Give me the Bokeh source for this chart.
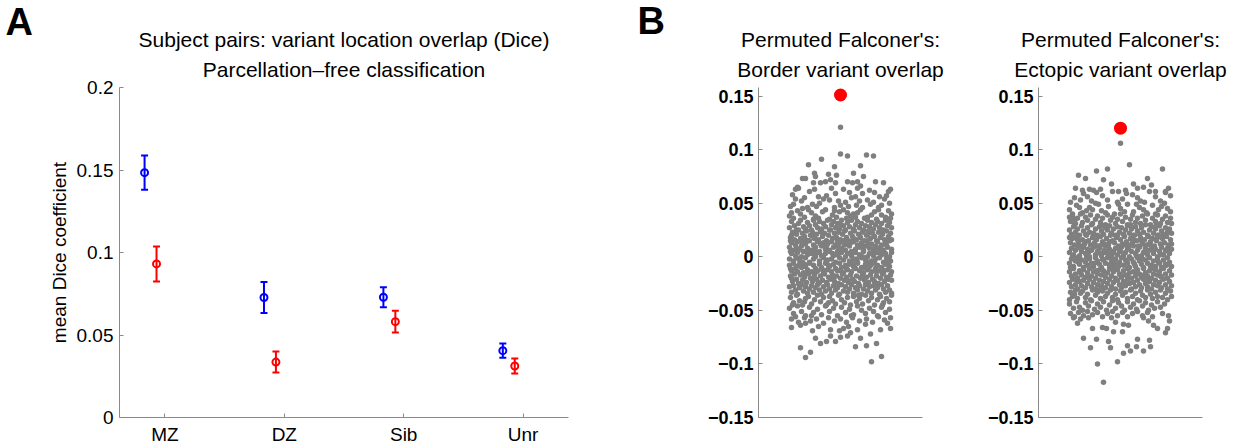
from bokeh.plotting import figure
from bokeh.models import ColumnDataSource, Whisker, TeeHead, Title, FixedTicker, Range1d
from bokeh.layouts import row
from bokeh.embed import file_html
from bokeh.resources import INLINE

# ---------------- data: panel A ----------------
categories = ["MZ", "DZ", "Sib", "Unr"]
blue_mean = [0.1484, 0.0727, 0.0729, 0.0405]
blue_err = [0.0104, 0.0094, 0.0061, 0.0043]
red_mean = [0.0931, 0.0336, 0.0581, 0.0312]
red_err = [0.0106, 0.0064, 0.0066, 0.0045]

# ---------------- data: panel B (jitter, value in thousandths) ----------------
border_observed = 0.151
ectopic_observed = 0.120

border_perm = [
    (0,121),(0,96),(7,94),(26,95),(33,94),(-19,91),(-32,86),(-6,84),(20,85),(-26,78),(-38,73),(-35,73),
    (-12,77),(-4,76),(13,78),(23,75),(-25,75),(-27,69),(-20,69),(-15,70),(-10,72),(-5,69),(7,70),(12,69),
    (17,70),(35,70),(43,69),(-43,65),(-45,63),(17,64),(20,66),(50,63),
    (-40,-85),(-35,-94),(-30,-89),(31,-98),(41,-93),(15,-84),(26,-83),(36,-81),(-20,-81),(-14,-79),(-5,-79),
    (-25,-76),(-10,-74),(0,-75),(7,-74),(10,-71),(20,-76),(30,-72),(40,-68),(50,-67),(-28,-69),(-49,-66),
    (-40,-64),(-35,-62),(-22,-65),(-10,-68),(-1,-69),(3,-67),(8,-65),(17,-68),(25,-63),(47,-62),
    (-48,58),(-31,61),(-14,57),(3,63),(22,59),(39,56),(-42,64),(-22,56),(9,60),(29,62),(46,57),(-5,59),
    (-36,55),(15,56),(34,60),(-26,63),(48,61),(-9,64),
    (-50,47),(-39,52),(-28,49),(-17,54),(-6,46),(5,51),(16,48),(27,53),(38,46),(49,50),(-45,54),(-33,46),
    (-21,50),(-11,53),(0,48),(11,55),(22,46),(33,51),(44,54),(-47,49),(-24,47),(-2,52),(19,52),(41,48),
    (8,47),(30,49),
    (-51,38),(-43,43),(-36,37),(-29,41),(-22,36),(-15,44),(-8,39),(-1,42),(6,36),(13,40),(20,44),(27,37),
    (34,42),(41,39),(48,43),(-47,36),(-40,40),(-32,44),(-25,38),(-18,42),(-11,35),(-4,37),(3,44),(10,38),
    (17,41),(24,36),(31,39),(38,44),(45,37),(51,40),(-49,41),(-27,35),(-6,43),(15,37),(36,35),(50,36),
    (-38,45),(7,41),
    (-51,27),(-49,33),(-46,29),(-44,25),(-42,31),(-40,34),(-37,28),(-35,26),(-33,32),(-31,29),(-29,25),
    (-27,34),(-25,30),(-23,27),(-21,33),(-19,26),(-17,31),(-15,28),(-13,34),(-11,25),(-9,30),(-7,33),
    (-5,27),(-3,31),(-1,26),(1,34),(3,29),(5,25),(7,32),(9,28),(11,34),(13,26),(15,30),(17,33),(19,27),
    (21,31),(23,25),(25,29),(27,34),(29,28),(31,32),(33,26),(35,30),(37,33),(39,27),(41,31),(43,25),
    (45,34),(47,29),(49,32),(51,27),(0,30),
    (-50,18),(-48,23),(-46,16),(-44,21),(-42,25),(-40,17),(-38,22),(-36,19),(-34,24),(-32,15),(-30,20),
    (-28,23),(-26,17),(-24,21),(-22,16),(-20,24),(-18,19),(-16,22),(-14,15),(-12,20),(-10,25),(-8,17),
    (-6,22),(-4,18),(-2,23),(0,16),(2,21),(4,24),(6,18),(8,15),(10,22),(12,19),(14,24),(16,16),(18,21),
    (20,18),(22,23),(24,15),(26,20),(28,24),(30,17),(32,22),(34,19),(36,15),(38,23),(40,18),(42,21),
    (44,16),(46,24),(48,19),(50,22),(-49,20),(-35,16),(-19,23),(-3,15),(13,17),(27,21),(41,25),(51,16),
    (-27,19),
    (-51,9),(-49,13),(-47,6),(-45,11),(-43,14),(-41,7),(-39,10),(-37,5),(-35,12),(-33,8),(-31,15),(-29,6),
    (-27,11),(-25,9),(-23,14),(-21,5),(-19,10),(-17,13),(-15,7),(-13,12),(-11,6),(-9,14),(-7,9),(-5,11),
    (-3,5),(-1,13),(1,8),(3,15),(5,6),(7,12),(9,10),(11,5),(13,14),(15,7),(17,11),(19,9),(21,13),(23,6),
    (25,10),(27,15),(29,8),(31,12),(33,5),(35,10),(37,14),(39,7),(41,11),(43,6),(45,13),(47,9),(49,15),
    (51,7),(-50,15),(-38,13),(-26,7),(-14,10),(-2,9),(10,13),(22,10),(34,8),(46,11),(-44,8),(-20,12),
    (4,11),(28,12),(40,9),
    (-51,-2),(-49,3),(-47,-4),(-45,1),(-43,4),(-41,-3),(-39,0),(-37,5),(-35,-1),(-33,2),(-31,-5),(-29,3),
    (-27,-2),(-25,0),(-23,4),(-21,-4),(-19,1),(-17,-1),(-15,3),(-13,-3),(-11,5),(-9,-2),(-7,1),(-5,-5),
    (-3,2),(-1,-1),(1,4),(3,-3),(5,0),(7,3),(9,-4),(11,1),(13,-2),(15,4),(17,-5),(19,2),(21,-1),(23,5),
    (25,-3),(27,0),(29,3),(31,-4),(33,1),(35,-2),(37,4),(39,-1),(41,2),(43,-5),(45,3),(47,-3),(49,0),
    (51,4),(-50,5),(-38,-5),(-26,2),(-14,-4),(-2,4),(10,-5),(22,0),(34,-4),(46,-1),(-44,-1),(-32,4),
    (-8,3),(16,-2),(28,-5),(40,5),(50,-4),
    (-51,-8),(-49,-13),(-47,-6),(-45,-11),(-43,-14),(-41,-7),(-39,-10),(-37,-15),(-35,-9),(-33,-12),
    (-31,-6),(-29,-14),(-27,-8),(-25,-11),(-23,-13),(-21,-7),(-19,-10),(-17,-15),(-15,-6),(-13,-12),
    (-11,-9),(-9,-14),(-7,-7),(-5,-11),(-3,-13),(-1,-6),(1,-10),(3,-15),(5,-8),(7,-12),(9,-7),(11,-14),
    (13,-9),(15,-11),(17,-6),(19,-13),(21,-10),(23,-15),(25,-7),(27,-12),(29,-9),(31,-14),(33,-6),
    (35,-11),(37,-8),(39,-13),(41,-10),(43,-15),(45,-7),(47,-12),(49,-9),(51,-14),(-50,-11),(-36,-7),
    (-24,-14),(-12,-8),(0,-13),(12,-6),(24,-10),(36,-14),(48,-6),(-44,-9),(-18,-12),(6,-11),(30,-8),
    (42,-12),
    (-50,-18),(-48,-23),(-46,-16),(-44,-21),(-42,-25),(-40,-17),(-38,-22),(-36,-19),(-34,-24),(-32,-16),
    (-30,-20),(-28,-23),(-26,-17),(-24,-21),(-22,-25),(-20,-18),(-18,-22),(-16,-16),(-14,-24),(-12,-19),
    (-10,-21),(-8,-17),(-6,-23),(-4,-18),(-2,-25),(0,-20),(2,-16),(4,-22),(6,-19),(8,-24),(10,-17),
    (12,-21),(14,-23),(16,-18),(18,-25),(20,-20),(22,-16),(24,-22),(26,-19),(28,-24),(30,-17),(32,-21),
    (34,-23),(36,-18),(38,-25),(40,-20),(42,-16),(44,-23),(46,-19),(48,-21),(50,-17),(-49,-20),(-35,-16),
    (-21,-24),(-7,-20),(7,-22),(21,-19),(35,-25),(51,-22),(-27,-20),
    (-51,-28),(-49,-33),(-47,-27),(-45,-31),(-43,-35),(-41,-29),(-39,-26),(-37,-32),(-35,-28),(-33,-34),
    (-31,-30),(-29,-27),(-27,-33),(-25,-29),(-23,-26),(-21,-31),(-19,-35),(-17,-28),(-15,-32),(-13,-26),
    (-11,-30),(-9,-34),(-7,-27),(-5,-31),(-3,-29),(-1,-35),(1,-26),(3,-32),(5,-28),(7,-33),(9,-30),
    (11,-26),(13,-34),(15,-29),(17,-31),(19,-27),(21,-35),(23,-30),(25,-26),(27,-32),(29,-28),(31,-34),
    (33,-27),(35,-31),(37,-29),(39,-35),(41,-26),(43,-30),(45,-33),(47,-27),(49,-31),(51,-34),
    (-50,-38),(-47,-43),(-44,-36),(-41,-41),(-38,-45),(-35,-39),(-32,-37),(-29,-44),(-26,-40),(-23,-36),
    (-20,-42),(-17,-38),(-14,-45),(-11,-37),(-8,-41),(-5,-44),(-2,-36),(1,-40),(4,-43),(7,-38),(10,-45),
    (13,-37),(16,-42),(19,-39),(22,-44),(25,-36),(28,-41),(31,-38),(34,-45),(37,-40),(40,-37),(43,-43),
    (46,-39),(49,-42),(51,-36),(-48,-45),(-36,-42),(-12,-43),(18,-36),(42,-45),
    (-51,-48),(-47,-53),(-43,-46),(-39,-51),(-35,-55),(-31,-47),(-27,-52),(-23,-49),(-19,-54),(-15,-46),
    (-11,-51),(-7,-48),(-3,-55),(1,-47),(5,-52),(9,-49),(13,-54),(17,-46),(21,-50),(25,-53),(29,-48),
    (33,-51),(37,-55),(41,-47),(45,-52),(49,-49),(-29,-55),(11,-55),
    (-49,-58),(-42,-61),(-36,-57),(-30,-60),(-24,-58),(-17,-62),(-12,-57),(-6,-60),(0,-58),(6,-61),
    (12,-57),(19,-60),(26,-58),(32,-61),(38,-56),(44,-59),(50,-57),(-45,-56),
]

ectopic_perm = [
    (0,106),(9,86),(42,82),(-13,82),(-24,80),(-42,76),(-35,73),(-17,72),(-9,68),(27,73),(13,68),(17,64),
    (23,65),(31,67),(-38,62),(-31,63),(-27,62),(-20,63),(-2,61),(5,62),(35,61),(45,61),(-45,64),(48,64),
    (-17,-117),(-23,-100),(-3,-98),(3,-90),(10,-88),(16,-84),(23,-88),(30,-84),(29,-78),(17,-77),(7,-83),
    (-10,-85),(-12,-79),(-30,-85),(-37,-76),(-24,-77),(-28,-67),(-18,-66),(-14,-67),(-7,-70),(2,-70),
    (3,-63),(8,-64),(-5,-61),(23,-57),(28,-60),(33,-64),(37,-67),(47,-67),(45,-71),(49,-60),(-47,-57),
    (-43,-62),(-40,-58),(-32,-57),(-9,-57),
    (-46,55),(-37,59),(-29,52),(-18,57),(-8,61),(2,54),(12,58),(24,51),(35,56),(45,60),(-50,51),(-40,53),
    (-24,60),(-13,53),(6,59),(17,55),(29,61),(40,52),(50,57),(-33,56),(-3,51),(20,52),
    (-51,44),(-44,48),(-38,41),(-31,46),(-25,50),(-19,43),(-12,47),(-6,40),(0,45),(7,49),(13,42),(19,46),
    (26,41),(32,48),(38,44),(44,50),(50,42),(-48,40),(-41,46),(-34,43),(-22,49),(-15,41),(-2,49),(4,42),
    (16,49),(23,44),(35,40),(41,47),(47,45),(-28,44),
    (-50,33),(-48,38),(-45,31),(-43,36),(-40,40),(-38,32),(-35,37),(-33,34),(-30,39),(-28,31),(-25,35),
    (-23,38),(-20,32),(-18,36),(-15,30),(-13,39),(-10,34),(-8,37),(-5,31),(-3,35),(0,40),(2,33),(5,37),
    (7,30),(10,35),(12,39),(15,32),(17,36),(20,31),(22,38),(25,34),(27,40),(30,30),(32,36),(35,33),
    (37,39),(40,31),(42,35),(45,38),(47,32),(50,36),(51,31),(-51,37),(-46,35),
    (-51,25),(-49,21),(-47,28),(-45,23),(-43,26),(-41,20),(-39,29),(-37,24),(-35,21),(-33,27),(-31,23),
    (-29,30),(-27,22),(-25,26),(-23,20),(-21,28),(-19,24),(-17,21),(-15,27),(-13,25),(-11,29),(-9,22),
    (-7,26),(-5,20),(-3,28),(-1,23),(1,27),(3,21),(5,25),(7,29),(9,22),(11,26),(13,20),(15,28),(17,24),
    (19,21),(21,27),(23,23),(25,30),(27,20),(29,25),(31,28),(33,22),(35,26),(37,20),(39,29),(41,24),
    (43,21),(45,27),(47,23),(49,26),(51,22),(-46,30),(-18,29),(10,30),(36,30),
    (-50,13),(-48,17),(-46,11),(-44,19),(-42,14),(-40,10),(-38,16),(-36,12),(-34,20),(-32,15),(-30,11),
    (-28,18),(-26,13),(-24,16),(-22,10),(-20,19),(-18,14),(-16,12),(-14,17),(-12,11),(-10,20),(-8,15),
    (-6,13),(-4,18),(-2,10),(0,16),(2,12),(4,19),(6,14),(8,11),(10,17),(12,13),(14,20),(16,15),(18,10),
    (20,18),(22,12),(24,16),(26,11),(28,19),(30,14),(32,17),(34,10),(36,15),(38,20),(40,12),(42,17),
    (44,13),(46,19),(48,11),(50,16),(51,12),(-51,18),(-43,16),(-35,14),(-27,20),(-19,11),(-11,14),
    (-3,20),(5,11),(13,16),(21,15),(29,12),(37,18),
    (-51,4),(-49,8),(-47,2),(-45,6),(-43,10),(-41,1),(-39,5),(-37,9),(-35,3),(-33,7),(-31,0),(-29,6),
    (-27,9),(-25,2),(-23,5),(-21,8),(-19,1),(-17,4),(-15,10),(-13,3),(-11,7),(-9,0),(-7,5),(-5,8),(-3,2),
    (-1,6),(1,9),(3,1),(5,4),(7,7),(9,0),(11,5),(13,10),(15,3),(17,6),(19,9),(21,1),(23,4),(25,8),(27,2),
    (29,6),(31,10),(33,3),(35,7),(37,0),(39,5),(41,9),(43,2),(45,6),(47,8),(49,3),(51,7),(-48,0),(-40,8),
    (-32,4),(-24,10),(-16,6),(-8,3),(0,5),(8,8),(16,1),(24,5),(32,8),(40,2),(48,5),(-20,3),
    (-51,-6),(-49,-2),(-47,-9),(-45,-4),(-43,-1),(-41,-7),(-39,-3),(-37,-10),(-35,-5),(-33,-8),(-31,-2),
    (-29,-6),(-27,-9),(-25,-1),(-23,-4),(-21,-7),(-19,-10),(-17,-3),(-15,-6),(-13,-1),(-11,-8),(-9,-4),
    (-7,-10),(-5,-2),(-3,-7),(-1,-5),(1,-1),(3,-8),(5,-3),(7,-6),(9,-10),(11,-2),(13,-5),(15,-9),(17,-1),
    (19,-4),(21,-7),(23,-10),(25,-3),(27,-6),(29,-1),(31,-8),(33,-4),(35,-9),(37,-2),(39,-6),(41,-10),
    (43,-3),(45,-7),(47,-1),(49,-5),(51,-9),(-50,-10),(-42,-5),(-34,-1),(-26,-6),(-18,-2),(-10,-7),
    (-2,-9),(6,-4),(14,-7),(22,-2),(30,-9),(38,-5),(46,-8),(-6,-6),
    (-51,-14),(-49,-18),(-47,-11),(-45,-16),(-43,-20),(-41,-13),(-39,-17),(-37,-12),(-35,-19),(-33,-15),
    (-31,-11),(-29,-18),(-27,-14),(-25,-20),(-23,-16),(-21,-12),(-19,-17),(-17,-13),(-15,-19),(-13,-15),
    (-11,-11),(-9,-18),(-7,-14),(-5,-20),(-3,-12),(-1,-16),(1,-19),(3,-13),(5,-17),(7,-11),(9,-15),
    (11,-20),(13,-14),(15,-18),(17,-12),(19,-16),(21,-19),(23,-11),(25,-15),(27,-18),(29,-13),(31,-20),
    (33,-16),(35,-12),(37,-17),(39,-14),(41,-19),(43,-11),(45,-16),(47,-20),(49,-13),(51,-17),(-48,-20),
    (-40,-15),(-32,-19),(-24,-13),(-16,-16),(-8,-12),(0,-17),(8,-19),(16,-14),(24,-17),(32,-11),(40,-18),
    (-51,-24),(-49,-28),(-47,-21),(-45,-26),(-43,-30),(-41,-23),(-39,-27),(-37,-22),(-35,-29),(-33,-25),
    (-31,-21),(-29,-28),(-27,-24),(-25,-30),(-23,-26),(-21,-22),(-19,-27),(-17,-23),(-15,-29),(-13,-25),
    (-11,-21),(-9,-28),(-7,-24),(-5,-30),(-3,-22),(-1,-26),(1,-29),(3,-23),(5,-27),(7,-21),(9,-25),
    (11,-30),(13,-24),(15,-28),(17,-22),(19,-26),(21,-29),(23,-21),(25,-25),(27,-28),(29,-23),(31,-30),
    (33,-26),(35,-22),(37,-27),(39,-24),(41,-29),(43,-21),(45,-26),(47,-30),(49,-23),(51,-27),(-44,-22),
    (-20,-30),(4,-25),(28,-21),
    (-50,-33),(-48,-37),(-45,-31),(-43,-39),(-40,-34),(-38,-32),(-35,-38),(-33,-35),(-30,-40),(-28,-31),
    (-25,-36),(-23,-33),(-20,-39),(-18,-32),(-15,-37),(-13,-34),(-10,-31),(-8,-38),(-5,-35),(-3,-40),
    (0,-32),(2,-36),(5,-33),(7,-39),(10,-31),(12,-37),(15,-34),(17,-40),(20,-32),(22,-36),(25,-38),
    (27,-31),(30,-35),(32,-39),(35,-33),(37,-37),(40,-31),(42,-38),(45,-34),(47,-40),(50,-32),(51,-37),
    (-51,-40),(-46,-35),
    (-51,-44),(-47,-48),(-44,-42),(-41,-47),(-38,-50),(-35,-43),(-32,-46),(-29,-41),(-26,-49),(-23,-44),
    (-20,-47),(-17,-42),(-14,-50),(-11,-45),(-8,-41),(-5,-48),(-2,-43),(1,-46),(4,-50),(7,-42),(10,-47),
    (13,-44),(16,-49),(19,-41),(22,-46),(25,-43),(28,-50),(31,-45),(34,-48),(37,-42),(40,-47),(44,-44),
    (-50,-53),(-46,-56),(-42,-52),(-37,-55),(-33,-51),(-28,-54),(-23,-52),(-18,-56),(-13,-53),(-8,-51),
    (-3,-55),(2,-52),(7,-56),(12,-53),(17,-51),(22,-55),(27,-52),(32,-56),(42,-53),(48,-55),
]

FONT = "Liberation Sans"
AXIS_GRAY = "#8a8a8a"
DOT_GRAY = "#7f7f7f"
TITLE_SIZE = "21px"


def style_axis(ax, size, bold=False):
    ax.axis_line_color = AXIS_GRAY
    ax.major_tick_line_color = AXIS_GRAY
    ax.minor_tick_line_color = None
    ax.major_tick_in = 4
    ax.major_tick_out = 0
    ax.major_label_text_font = FONT
    ax.major_label_text_font_size = size
    ax.major_label_text_color = "black"
    ax.major_label_text_font_style = "bold" if bold else "normal"
    ax.major_label_standoff = 6


def add_titles(p, line1, line2, s2, letter=None, letter_offset=0, letter_standoff=0):
    p.add_layout(Title(text=line2, align="center", text_font=FONT, text_font_size=TITLE_SIZE,
                       text_font_style="normal", text_color="black", standoff=s2), "above")
    p.add_layout(Title(text=line1, align="center", text_font=FONT, text_font_size=TITLE_SIZE,
                       text_font_style="normal", text_color="black", standoff=-3), "above")
    if letter:
        p.add_layout(Title(text=letter, align="left", offset=letter_offset, text_font=FONT,
                           text_font_size="38px", text_font_style="bold", text_color="black",
                           standoff=letter_standoff), "above")


# ---------------- panel A ----------------
pa = figure(width=620, height=448, x_range=Range1d(0.62, 4.38), y_range=Range1d(0, 0.2),
            output_backend="svg", toolbar_location=None, title_location=None,
            min_border_left=119, min_border_right=52, min_border_top=87, min_border_bottom=31)
pa.outline_line_color = None
pa.grid.visible = False

idx = list(range(1, len(categories) + 1))
BLUE_OFF, RED_OFF = -0.17, -0.07
for mean, err, color, off in [(blue_mean, blue_err, "#0000ff", BLUE_OFF),
                              (red_mean, red_err, "#ff0000", RED_OFF)]:
    src = ColumnDataSource(dict(
        x=[i + off for i in idx], y=mean,
        up=[m + e for m, e in zip(mean, err)],
        lo=[m - e for m, e in zip(mean, err)]))
    w = Whisker(base="x", upper="up", lower="lo", source=src, dimension="height",
                line_color=color, line_width=2,
                upper_head=TeeHead(size=7, line_color=color, line_width=2),
                lower_head=TeeHead(size=7, line_color=color, line_width=2))
    pa.add_layout(w)
    pa.scatter("x", "y", source=src, marker="circle", size=7, fill_color=None,
               line_color=color, line_width=2)

xa = pa.xaxis[0]
xa.ticker = FixedTicker(ticks=idx)
xa.major_label_overrides = {i: c for i, c in zip(idx, categories)}
style_axis(xa, "19px")
ya = pa.yaxis[0]
ya.ticker = FixedTicker(ticks=[0, 0.05, 0.1, 0.15, 0.2])
ya.major_label_overrides = {0: "0", 0.05: "0.05", 0.1: "0.1", 0.15: "0.15", 0.2: "0.2"}
style_axis(ya, "19px")
ya.axis_label = "mean Dice coefficient"
ya.axis_label_text_font = FONT
ya.axis_label_text_font_size = "19px"
ya.axis_label_text_font_style = "normal"
ya.axis_label_text_color = "black"
ya.axis_label_standoff = 4

add_titles(pa, "Subject pairs: variant location overlap (Dice)",
           "Parcellation\u2013free classification", 13, "A", -114, -30)


# ---------------- panel B ----------------
def perm_panel(pts, observed, title2, width, left, right, letter=None, letter_offset=0):
    p = figure(width=width, height=448, x_range=Range1d(-82, 82), y_range=Range1d(-0.15, 0.158),
               output_backend="svg", toolbar_location=None, title_location=None,
               min_border_left=left, min_border_right=right, min_border_top=83, min_border_bottom=23)
    p.outline_line_color = None
    p.grid.visible = False
    src = ColumnDataSource(dict(x=[q[0] for q in pts], y=[q[1] / 1000 for q in pts]))
    p.scatter("x", "y", source=src, marker="circle", size=5.5, fill_color=DOT_GRAY,
              line_color=None)
    p.scatter([0], [observed], marker="circle", size=13, fill_color="#ff0000", line_color=None)
    xb = p.xaxis[0]
    xb.ticker = FixedTicker(ticks=[])
    xb.axis_line_color = AXIS_GRAY
    xb.major_label_text_font_size = "0px"
    yb = p.yaxis[0]
    yb.ticker = FixedTicker(ticks=[-0.15, -0.1, -0.05, 0, 0.05, 0.1, 0.15])
    yb.major_label_overrides = {-0.15: "\u22120.15", -0.1: "\u22120.1", -0.05: "\u22120.05", 0: "0",
                                0.05: "0.05", 0.1: "0.1", 0.15: "0.15"}
    style_axis(yb, "18px", bold=True)
    yb.major_label_standoff = 5
    add_titles(p, "Permuted Falconer's:", title2, 13, letter, letter_offset, -29)
    return p


pb1 = perm_panel(border_perm, border_observed, "Border variant overlap", 340, 138, 38, "B", -121)
pb2 = perm_panel(ectopic_perm, ectopic_observed, "Ectopic variant overlap", 277, 78, 35)

layout = row(pa, pb1, pb2)
open("out.html", "w").write(file_html(layout, INLINE))
